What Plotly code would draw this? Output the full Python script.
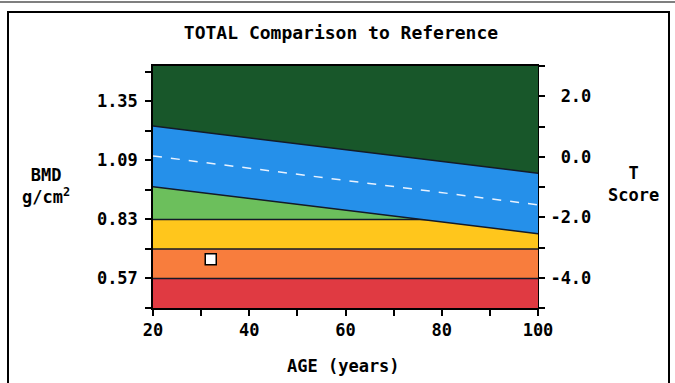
import plotly.graph_objects as go

# ---- reference curves (BMD g/cm2 by age) ----
ages = [20, 60, 100]
upper_sd = [1.241, 1.137, 1.033]   # +1 SD of age-matched mean
mean_bmd = [1.109, 1.001, 0.894]   # age-matched mean
lower_sd = [0.974, 0.870, 0.767]   # -1 SD of age-matched mean

# fixed horizontal thresholds (BMD)
yellow_top = 0.83
orange_top = 0.70
red_top = 0.57

# patient measurement
patient_age = [32]
patient_bmd = [0.655]

# axes
x_ticks = [20, 30, 40, 50, 60, 70, 80, 90, 100]
x_labels = ["20", "", "40", "", "60", "", "80", "", "100"]
y_ticks = [0.44, 0.57, 0.70, 0.83, 0.96, 1.09, 1.22, 1.35, 1.48]
y_labels = ["", "0.57", "", "0.83", "", "1.09", "", "1.35", ""]
t_ticks = [-5, -4, -3, -2, -1, 0, 1, 2, 3]
t_labels = ["", "-4.0", "", "-2.0", "", "\u00a00.0", "", "\u00a02.0", ""]

C_DKGREEN = "#18572a"
C_BLUE = "#2590ea"
C_LTGREEN = "#6cbf5c"
C_YELLOW = "#ffc61c"
C_ORANGE = "#f87d3d"
C_RED = "#e03a42"
C_LINE = "#141a28"

FONT = "DejaVu Sans Mono"
W, H = 675, 383
ML, MR, MT, MB = 153, 137, 66, 75
PW, PH = W - ML - MR, H - MT - MB


def px(x):
    return (x - ML) / PW


def py(y):
    return (H - MB - y) / PH


fig = go.Figure()
x0, x1 = ages[0], ages[-1]

# light green: everything under the -1 SD curve
fig.add_trace(go.Scatter(x=ages, y=lower_sd, mode="lines", fill="tozeroy",
                         fillcolor=C_LTGREEN, line=dict(width=0), hoverinfo="skip"))
# horizontal bands
for level, col in [(yellow_top, C_YELLOW), (orange_top, C_ORANGE), (red_top, C_RED)]:
    fig.add_trace(go.Scatter(x=[x0, x1], y=[level, level], mode="lines", fill="tozeroy",
                             fillcolor=col, line=dict(color=C_LINE, width=1.5),
                             hoverinfo="skip"))
# blue band between -1 SD and +1 SD
fig.add_trace(go.Scatter(x=ages, y=lower_sd, mode="lines",
                         line=dict(color=C_LINE, width=1.5), hoverinfo="skip"))
fig.add_trace(go.Scatter(x=ages, y=upper_sd, mode="lines", fill="tonexty",
                         fillcolor=C_BLUE, line=dict(color=C_LINE, width=1.5),
                         hoverinfo="skip"))
# age-matched mean
fig.add_trace(go.Scatter(x=ages, y=mean_bmd, mode="lines",
                         line=dict(color="#e8f2ff", width=1.5, dash="dash"),
                         hoverinfo="skip"))
# patient
fig.add_trace(go.Scatter(x=patient_age, y=patient_bmd, mode="markers",
                         marker=dict(symbol="square", size=11, color="white",
                                     line=dict(color="black", width=1.5))))
# T-score axis anchor
fig.add_trace(go.Scatter(x=[x0], y=[0], yaxis="y2", mode="markers",
                         marker=dict(opacity=0), hoverinfo="skip"))

tick_font = dict(family=FONT, size=17, color="black", weight="bold")

fig.update_layout(
    width=W, height=H,
    margin=dict(l=ML, r=MR, t=MT, b=MB, pad=0),
    paper_bgcolor="white",
    plot_bgcolor=C_DKGREEN,
    showlegend=False,
    title=dict(text="TOTAL Comparison to Reference", x=px(341), xref="paper",
               xanchor="center", y=1 - 33 / H, yanchor="middle",
               font=dict(family=FONT, size=18, color="black", weight="bold")),
    xaxis=dict(range=[x0, x1], tickvals=x_ticks, ticktext=x_labels,
               ticks="outside", ticklen=6, tickwidth=1.5, tickcolor="black",
               showline=True, linecolor="black", linewidth=1.5, mirror=True,
               showgrid=False, zeroline=False, tickfont=tick_font,
               ticklabelstandoff=0),
    yaxis=dict(range=[0.44, 1.505], tickvals=y_ticks, ticktext=y_labels,
               ticks="outside", ticklen=6, tickwidth=1.5, tickcolor="black",
               showline=True, linecolor="black", linewidth=1.5,
               showgrid=False, zeroline=False, tickfont=tick_font,
               ticklabelstandoff=4),
    yaxis2=dict(range=[-5, 3], overlaying="y", side="right",
                tickvals=t_ticks, ticktext=t_labels,
                ticks="outside", ticklen=6, tickwidth=1.5, tickcolor="black",
                showline=True, linecolor="black", linewidth=1,
                showgrid=False, zeroline=False, tickfont=tick_font,
                ticklabelstandoff=2),
)

lab_font = dict(family=FONT, size=17, color="black", weight="bold")
fig.add_annotation(text="AGE (years)", x=px(343), y=py(366), xref="paper", yref="paper",
                   showarrow=False, xanchor="center", yanchor="middle", font=lab_font)
fig.add_annotation(text="BMD<br>g/cm<sup>2</sup>", x=px(46), y=py(186), xref="paper",
                   yref="paper", showarrow=False, xanchor="center", yanchor="middle",
                   font=lab_font)
fig.add_annotation(text="T<br>Score", x=px(633), y=py(184), xref="paper", yref="paper",
                   showarrow=False, xanchor="center", yanchor="middle", font=lab_font)

# page frame
fig.add_shape(type="rect", xref="paper", yref="paper",
              x0=px(8), x1=px(669), y0=py(390), y1=py(12),
              line=dict(color="black", width=2), fillcolor="rgba(0,0,0,0)")
fig.add_shape(type="line", xref="paper", yref="paper",
              x0=px(0), x1=px(675), y0=py(2), y1=py(2),
              line=dict(color="#555555", width=1.5))

fig.write_html("out.html")
